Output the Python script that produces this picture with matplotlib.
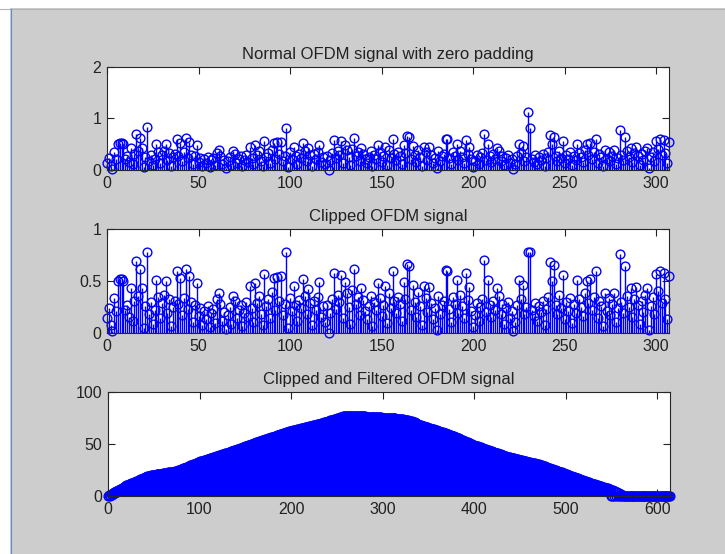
import matplotlib.pyplot as plt
import numpy as np
from matplotlib.patches import Rectangle
from matplotlib.lines import Line2D

# Отсчёты сигнала OFDM (оценка по рисунку), n = 0..307
normal_ofdm = [
    0.14, 0.24, 0.08, 0.02, 0.34, 0.21, 0.50, 0.52, 0.52, 0.50, 0.22, 0.27, 0.15, 0.43, 0.12, 0.31, 0.69, 0.36, 0.62, 0.43,
    0.05, 0.26, 0.84, 0.18, 0.30, 0.09, 0.22, 0.51, 0.35, 0.14, 0.29, 0.37, 0.50, 0.19, 0.33, 0.07, 0.25, 0.31, 0.60, 0.28,
    0.53, 0.17, 0.34, 0.62, 0.23, 0.55, 0.30, 0.11, 0.27, 0.48, 0.16, 0.24, 0.08, 0.21, 0.13, 0.26, 0.06, 0.19, 0.23, 0.10,
    0.33, 0.38, 0.28, 0.12, 0.20, 0.04, 0.17, 0.25, 0.09, 0.36, 0.31, 0.14, 0.22, 0.27, 0.07, 0.19, 0.30, 0.15, 0.45, 0.24,
    0.11, 0.48, 0.29, 0.36, 0.18, 0.08, 0.57, 0.26, 0.33, 0.14, 0.39, 0.53, 0.22, 0.54, 0.31, 0.55, 0.17, 0.28, 0.81, 0.05,
    0.34, 0.21, 0.45, 0.27, 0.12, 0.32, 0.24, 0.52, 0.36, 0.18, 0.42, 0.29, 0.08, 0.31, 0.22, 0.35, 0.49, 0.15, 0.26, 0.11,
    0.27, 0.00, 0.19, 0.33, 0.58, 0.23, 0.37, 0.30, 0.56, 0.14, 0.49, 0.38, 0.25, 0.09, 0.41, 0.62, 0.28, 0.35, 0.17, 0.43,
    0.32, 0.21, 0.13, 0.26, 0.36, 0.07, 0.30, 0.22, 0.48, 0.34, 0.16, 0.27, 0.45, 0.10, 0.38, 0.24, 0.60, 0.31, 0.19, 0.35,
    0.28, 0.12, 0.49, 0.33, 0.66, 0.64, 0.22, 0.46, 0.30, 0.15, 0.39, 0.26, 0.08, 0.45, 0.34, 0.20, 0.44, 0.29, 0.13, 0.24,
    0.03, 0.36, 0.18, 0.27, 0.31, 0.61, 0.60, 0.23, 0.11, 0.35, 0.28, 0.51, 0.19, 0.37, 0.26, 0.14, 0.58, 0.32, 0.44, 0.21,
    0.06, 0.17, 0.29, 0.12, 0.25, 0.33, 0.70, 0.20, 0.51, 0.27, 0.15, 0.31, 0.22, 0.43, 0.36, 0.18, 0.28, 0.09, 0.24, 0.30,
    0.14, 0.21, 0.02, 0.11, 0.27, 0.51, 0.33, 0.46, 0.18, 0.25, 1.13, 0.81, 0.22, 0.16, 0.29, 0.12, 0.26, 0.20, 0.31, 0.08,
    0.23, 0.35, 0.68, 0.50, 0.65, 0.27, 0.18, 0.37, 0.24, 0.56, 0.13, 0.30, 0.21, 0.34, 0.10, 0.28, 0.19, 0.51, 0.33, 0.25,
    0.16, 0.38, 0.50, 0.29, 0.52, 0.22, 0.35, 0.60, 0.14, 0.31, 0.26, 0.07, 0.38, 0.21, 0.34, 0.17, 0.28, 0.38, 0.11, 0.24,
    0.77, 0.30, 0.19, 0.64, 0.36, 0.25, 0.43, 0.15, 0.33, 0.44, 0.27, 0.09, 0.31, 0.20, 0.37, 0.43, 0.03, 0.26, 0.35, 0.18,
    0.57, 0.40, 0.60, 0.29, 0.58, 0.33, 0.13, 0.55,
]

# После ограничения (пики срезаны на ~0.78)
clipped_ofdm = [
    0.14, 0.24, 0.08, 0.02, 0.34, 0.21, 0.50, 0.52, 0.52, 0.50, 0.22, 0.27, 0.15, 0.43, 0.12, 0.31, 0.69, 0.36, 0.62, 0.43,
    0.05, 0.26, 0.78, 0.18, 0.30, 0.09, 0.22, 0.51, 0.35, 0.14, 0.29, 0.37, 0.50, 0.19, 0.33, 0.07, 0.25, 0.31, 0.60, 0.28,
    0.53, 0.17, 0.34, 0.62, 0.23, 0.55, 0.30, 0.11, 0.27, 0.48, 0.16, 0.24, 0.08, 0.21, 0.13, 0.26, 0.06, 0.19, 0.23, 0.10,
    0.33, 0.38, 0.28, 0.12, 0.20, 0.04, 0.17, 0.25, 0.09, 0.36, 0.31, 0.14, 0.22, 0.27, 0.07, 0.19, 0.30, 0.15, 0.45, 0.24,
    0.11, 0.48, 0.29, 0.36, 0.18, 0.08, 0.57, 0.26, 0.33, 0.14, 0.39, 0.53, 0.22, 0.54, 0.31, 0.55, 0.17, 0.28, 0.78, 0.05,
    0.34, 0.21, 0.45, 0.27, 0.12, 0.32, 0.24, 0.52, 0.36, 0.18, 0.42, 0.29, 0.08, 0.31, 0.22, 0.35, 0.49, 0.15, 0.26, 0.11,
    0.27, 0.00, 0.19, 0.33, 0.58, 0.23, 0.37, 0.30, 0.56, 0.14, 0.49, 0.38, 0.25, 0.09, 0.41, 0.62, 0.28, 0.35, 0.17, 0.43,
    0.32, 0.21, 0.13, 0.26, 0.36, 0.07, 0.30, 0.22, 0.48, 0.34, 0.16, 0.27, 0.45, 0.10, 0.38, 0.24, 0.60, 0.31, 0.19, 0.35,
    0.28, 0.12, 0.49, 0.33, 0.66, 0.64, 0.22, 0.46, 0.30, 0.15, 0.39, 0.26, 0.08, 0.45, 0.34, 0.20, 0.44, 0.29, 0.13, 0.24,
    0.03, 0.36, 0.18, 0.27, 0.31, 0.61, 0.60, 0.23, 0.11, 0.35, 0.28, 0.51, 0.19, 0.37, 0.26, 0.14, 0.58, 0.32, 0.44, 0.21,
    0.06, 0.17, 0.29, 0.12, 0.25, 0.33, 0.70, 0.20, 0.51, 0.27, 0.15, 0.31, 0.22, 0.43, 0.36, 0.18, 0.28, 0.09, 0.24, 0.30,
    0.14, 0.21, 0.02, 0.11, 0.27, 0.51, 0.33, 0.46, 0.18, 0.25, 0.78, 0.78, 0.22, 0.16, 0.29, 0.12, 0.26, 0.20, 0.31, 0.08,
    0.23, 0.35, 0.68, 0.50, 0.65, 0.27, 0.18, 0.37, 0.24, 0.56, 0.13, 0.30, 0.21, 0.34, 0.10, 0.28, 0.19, 0.51, 0.33, 0.25,
    0.16, 0.38, 0.50, 0.29, 0.52, 0.22, 0.35, 0.60, 0.14, 0.31, 0.26, 0.07, 0.38, 0.21, 0.34, 0.17, 0.28, 0.38, 0.11, 0.24,
    0.76, 0.30, 0.19, 0.64, 0.36, 0.25, 0.43, 0.15, 0.33, 0.44, 0.27, 0.09, 0.31, 0.20, 0.37, 0.43, 0.03, 0.26, 0.35, 0.18,
    0.57, 0.40, 0.60, 0.29, 0.58, 0.33, 0.13, 0.55,
]

# После ограничения и фильтрации, n = 0..614
filtered_ofdm = [
    0.0, 1.2, 0.4, 2.1, 1.0, 3.0, 1.8, 3.9, 2.5, 4.6,
    3.4, 5.7, 4.8, 6.9, 6.2, 7.8, 7.5, 8.6, 8.9, 9.7,
    10.4, 10.2, 11.0, 11.5, 11.3, 12.2, 12.6, 12.4, 13.3, 13.7,
    13.6, 14.5, 14.9, 14.8, 15.6, 16.0, 16.1, 16.8, 17.2, 17.1,
    18.0, 18.3, 18.6, 18.9, 19.2, 19.5, 19.6, 19.8, 19.9, 20.1,
    20.2, 20.4, 20.5, 20.7, 20.8, 21.0, 21.1, 21.3, 21.4, 21.6,
    21.7, 21.9, 22.0, 22.2, 22.3, 22.5, 22.6, 22.8, 22.9, 23.1,
    23.2, 23.4, 23.5, 23.7, 23.8, 24.0, 24.4, 24.7, 25.1, 25.4,
    25.8, 26.2, 26.5, 26.9, 27.2, 27.6, 28.0, 28.3, 28.7, 29.0,
    29.4, 29.8, 30.1, 30.5, 30.8, 31.2, 31.6, 31.9, 32.3, 32.6,
    33.0, 33.3, 33.6, 33.8, 34.1, 34.4, 34.7, 35.0, 35.3, 35.5,
    35.8, 36.1, 36.4, 36.7, 37.0, 37.3, 37.5, 37.8, 38.1, 38.4,
    38.7, 39.0, 39.2, 39.5, 39.8, 40.1, 40.4, 40.7, 40.9, 41.2,
    41.5, 41.8, 42.1, 42.5, 42.8, 43.1, 43.4, 43.7, 44.0, 44.4,
    44.7, 45.0, 45.3, 45.6, 46.0, 46.3, 46.6, 46.9, 47.2, 47.5,
    47.9, 48.2, 48.5, 48.8, 49.1, 49.5, 49.8, 50.1, 50.4, 50.7,
    51.0, 51.4, 51.7, 52.0, 52.3, 52.6, 52.9, 53.2, 53.5, 53.7,
    54.0, 54.3, 54.6, 54.9, 55.2, 55.5, 55.8, 56.1, 56.4, 56.7,
    56.9, 57.2, 57.5, 57.8, 58.1, 58.4, 58.7, 59.0, 59.3, 59.6,
    59.9, 60.1, 60.4, 60.7, 61.0, 61.3, 61.6, 61.8, 62.1, 62.3,
    62.5, 62.7, 63.0, 63.2, 63.4, 63.6, 63.9, 64.1, 64.3, 64.5,
    64.8, 65.0, 65.2, 65.4, 65.7, 65.9, 66.1, 66.3, 66.6, 66.8,
    67.0, 67.2, 67.5, 67.7, 67.9, 68.1, 68.4, 68.6, 68.8, 69.0,
    69.3, 69.5, 69.7, 70.0, 70.2, 70.5, 70.8, 71.1, 71.3, 71.6,
    71.9, 72.1, 72.4, 72.7, 73.0, 73.2, 73.5, 73.8, 74.0, 74.3,
    74.6, 74.8, 75.1, 75.4, 75.7, 75.9, 76.2, 76.5, 76.7, 76.8,
    76.9, 76.9, 77.0, 77.0, 77.1, 77.0, 77.1, 77.0, 77.0, 77.1,
    77.0, 77.0, 77.0, 76.9, 76.9, 76.8, 76.8, 76.7, 76.7, 76.6,
    76.5, 76.5, 76.4, 76.4, 76.3, 76.3, 76.2, 76.1, 76.1, 76.0,
    76.0, 75.9, 75.8, 75.8, 75.7, 75.7, 75.6, 75.5, 75.5, 75.4,
    75.4, 75.3, 75.3, 75.2, 75.1, 75.1, 75.0, 75.0, 74.9, 74.8,
    74.8, 74.7, 74.7, 74.6, 74.6, 74.5, 74.5, 74.3, 74.2, 74.0,
    73.9, 73.7, 73.6, 73.4, 73.3, 73.1, 73.0, 72.8, 72.6, 72.5,
    72.3, 72.2, 71.8, 71.4, 71.0, 70.7, 70.3, 69.9, 69.5, 69.1,
    68.7, 68.4, 68.0, 67.7, 67.4, 67.1, 66.8, 66.6, 66.3, 66.0,
    65.7, 65.4, 65.1, 64.8, 64.5, 64.2, 64.0, 63.7, 63.4, 63.1,
    62.8, 62.5, 62.2, 61.9, 61.7, 61.4, 61.1, 60.8, 60.5, 60.2,
    59.9, 59.6, 59.4, 59.1, 58.8, 58.5, 58.1, 57.7, 57.3, 56.9,
    56.6, 56.2, 55.8, 55.4, 55.0, 54.6, 54.2, 53.8, 53.5, 53.1,
    52.7, 52.3, 51.9, 51.5, 51.1, 50.7, 50.3, 50.0, 49.6, 49.2,
    48.8, 48.5, 48.2, 47.9, 47.6, 47.3, 47.0, 46.7, 46.4, 46.1,
    45.8, 45.5, 45.2, 44.9, 44.6, 44.3, 44.0, 43.7, 43.3, 43.0,
    42.7, 42.4, 42.1, 41.8, 41.5, 41.2, 40.9, 40.6, 40.3, 40.0,
    39.7, 39.4, 39.1, 38.8, 38.5, 38.2, 37.9, 37.6, 37.4, 37.2,
    36.9, 36.7, 36.5, 36.3, 36.1, 35.9, 35.7, 35.4, 35.2, 35.0,
    34.8, 34.6, 34.4, 34.1, 33.9, 33.7, 33.5, 33.3, 33.1, 32.9,
    32.6, 32.4, 32.2, 32.0, 31.8, 31.6, 31.3, 31.1, 30.9, 30.7,
    30.5, 30.3, 30.0, 29.8, 29.6, 29.3, 29.0, 28.6, 28.3, 28.0,
    27.7, 27.4, 27.0, 26.7, 26.4, 26.1, 25.8, 25.4, 25.1, 24.8,
    24.5, 24.2, 23.8, 23.5, 23.2, 22.9, 22.6, 22.2, 21.9, 21.6,
    21.3, 20.9, 20.6, 20.3, 20.0, 19.6, 19.3, 19.0, 18.7, 18.3,
    18.0, 17.7, 17.4, 17.0, 16.7, 16.4, 16.1, 15.7, 15.4, 15.1,
    14.8, 14.4, 14.1, 13.8, 13.5, 13.1, 12.8, 12.5, 12.2, 11.9,
    11.6, 11.3, 11.1, 10.8, 10.5, 10.2, 10.0, 9.7, 9.4, 9.2,
    8.9, 8.6, 8.3, 8.1, 7.8, 7.5, 7.3, 7.0, 6.7, 0.3,
    6.2, 0.2, 5.3, 0.1, 4.4, 0.2, 3.5, 0.1, 2.7, 0.0,
    1.8, 0.0, 0.9, 0.0, 0.0, 0.0, 0.0, 0.0, 0.0, 0.0,
    0.0, 0.0, 0.0, 0.0, 0.0, 0.0, 0.0, 0.0, 0.0, 0.0,
    0.0, 0.0, 0.0, 0.0, 0.0, 0.0, 0.0, 0.0, 0.0, 0.0,
    0.0, 0.0, 0.0, 0.0, 0.0, 0.0, 0.0, 0.0, 0.0, 0.0,
    0.0, 0.0, 0.0, 0.0, 0.0, 0.0, 0.0, 0.0, 0.0, 0.0,
    0.0, 0.0, 0.0, 0.0, 0.0,
]

titles = ['Normal OFDM signal with zero padding',
          'Clipped OFDM signal',
          'Clipped and Filtered OFDM signal']
y_ticks = [[0, 1, 2], [0, 0.5, 1], [0, 50, 100]]
y_ticklabels = [['0', '1', '2'], ['0', '0.5', '1'], ['0', '50', '100']]
x_ticks = [list(range(0, 301, 50)), list(range(0, 301, 50)), list(range(0, 601, 100))]

plt.rcParams['font.family'] = ['Liberation Sans', 'DejaVu Sans']

fig = plt.figure(figsize=(7.25, 5.54), dpi=100, facecolor='#cdcdcd')
W, H = 725.0, 554.0

# рамка окна
fig.add_artist(Rectangle((0, 1 - 8 / H), 1, 8 / H, transform=fig.transFigure,
                         facecolor='white', edgecolor='none'))
fig.add_artist(Rectangle((0, 0), 10 / W, 1, transform=fig.transFigure,
                         facecolor='white', edgecolor='none'))
fig.add_artist(Line2D([0, 1], [1 - 9 / H, 1 - 9 / H], transform=fig.transFigure,
                      color='#b4b4b4', lw=0.8))
fig.add_artist(Line2D([11 / W, 11 / W], [0, 1 - 9 / H], transform=fig.transFigure,
                      color='#5b8fd0', lw=0.8))

boxes = [(107, 67, 170), (107, 229, 333), (108, 392, 496)]
series = [normal_ofdm, clipped_ofdm, filtered_ofdm]
ylims = [(0, 2), (0, 1), (0, 100)]
xlims = [(0, 307), (0, 307), (0, 614)]
stem_lw = [1.0, 1.0, 1.4]

for i in range(3):
    left, top, bottom = boxes[i]
    right = left + 562
    ax = fig.add_axes([left / W, 1 - bottom / H, (right - left) / W, (bottom - top) / H])
    y = np.array(series[i])
    x = np.arange(len(y))
    markerline, stemlines, baseline = ax.stem(x, y, linefmt='b-', markerfmt='bo', basefmt='k-')
    markerline.set_markerfacecolor('none')
    markerline.set_markeredgecolor('#0000ff')
    markerline.set_markersize(6.3)
    markerline.set_markeredgewidth(1.0)
    markerline.set_clip_on(False)
    markerline.set_zorder(3)
    stemlines.set_color('#0000ff')
    stemlines.set_linewidth(stem_lw[i])
    baseline.set_color('#1a1a1a')
    baseline.set_linewidth(0.8)
    baseline.set_zorder(4)
    ax.set_xlim(*xlims[i])
    ax.set_ylim(*ylims[i])
    ax.set_xticks(x_ticks[i])
    ax.set_yticks(y_ticks[i])
    ax.set_yticklabels(y_ticklabels[i])
    ax.tick_params(direction='in', length=5, width=0.8, top=True, right=True,
                   labelsize=11.5, colors='#222222', pad=4)
    for sp in ax.spines.values():
        sp.set_color('#262626')
        sp.set_linewidth(0.8)
        sp.set_zorder(5)
    ax.set_title(titles[i], fontsize=12, color='#222222', pad=6)

plt.savefig('out.png', dpi=100, facecolor=fig.get_facecolor())
